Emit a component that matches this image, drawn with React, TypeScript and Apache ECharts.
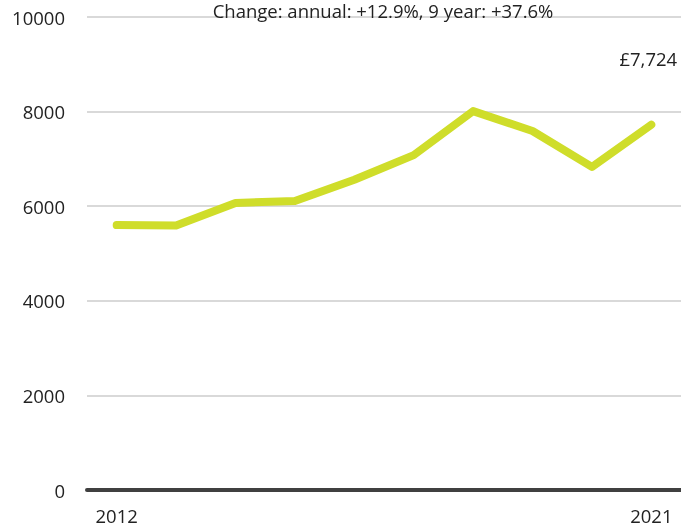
import React, { useEffect, useRef } from "react";
import * as echarts from "echarts";

const years = ["2012", "2013", "2014", "2015", "2016", "2017", "2018", "2019", "2020", "2021"];
const values = [5600, 5590, 6070, 6110, 6560, 7080, 8010, 7590, 6830, 7724];
const yTicks = [0, 2000, 4000, 6000, 8000, 10000];
const titleText = "Change: annual: +12.9%, 9 year: +37.6%";
const lastLabel = "£7,724";

const FONT = "Open Sans";
const TEXT = "#222222";
const FS = 18.5;

export default function App() {
  const ref = useRef<HTMLDivElement>(null);
  useEffect(() => {
    if (!ref.current) return;
    const chart = echarts.init(ref.current, undefined, { renderer: "svg" });
    const data = values.map((v, i) => {
      const item: any = { value: v };
      if (i === values.length - 1) {
        item.label = {
          show: true,
          formatter: lastLabel,
          position: "top",
          distance: 57,
          offset: [-3, 0],
          color: TEXT,
          fontSize: FS,
          fontFamily: FONT,
        };
      }
      return item;
    });
    chart.setOption({
      animation: false,
      title: {
        text: titleText,
        left: 383,
        textAlign: "center",
        top: 0,
        padding: 0,
        textStyle: { color: TEXT, fontSize: FS, fontWeight: "normal", fontFamily: FONT, lineHeight: 20 },
      },
      grid: { left: 87, right: 0, top: 17, bottom: 38, containLabel: false },
      xAxis: {
        type: "category",
        data: years,
        boundaryGap: true,
        splitLine: { show: false },
        axisTick: { show: false },
        axisLine: { show: true, lineStyle: { color: "#404040", width: 4 } },
        axisLabel: {
          interval: (i: number) => i === 0 || i === years.length - 1,
          color: TEXT,
          fontSize: FS,
          fontFamily: FONT,
          margin: 16,
        },
      },
      yAxis: {
        type: "value",
        min: yTicks[0],
        max: yTicks[yTicks.length - 1],
        interval: 2000,
        axisLine: { show: false },
        axisTick: { show: false },
        splitLine: { lineStyle: { color: "#d9d9d9", width: 2 } },
        axisLabel: {
          color: TEXT,
          fontSize: FS,
          fontFamily: FONT,
          margin: 22,
          formatter: (v: number) => String(v),
        },
      },
      series: [
        {
          type: "line",
          data,
          showSymbol: true,
          symbol: "circle",
          symbolSize: 0,
          lineStyle: { color: "#cfdd2a", width: 8, cap: "round", join: "round" },
          itemStyle: { color: "#cfdd2a" },
          label: { show: false },
          z: 3,
        },
      ],
    });
    return () => chart.dispose();
  }, []);
  return (
    <div
      ref={ref}
      style={{ position: "fixed", left: 0, top: 0, width: 681, height: 528 }}
    />
  );
}
